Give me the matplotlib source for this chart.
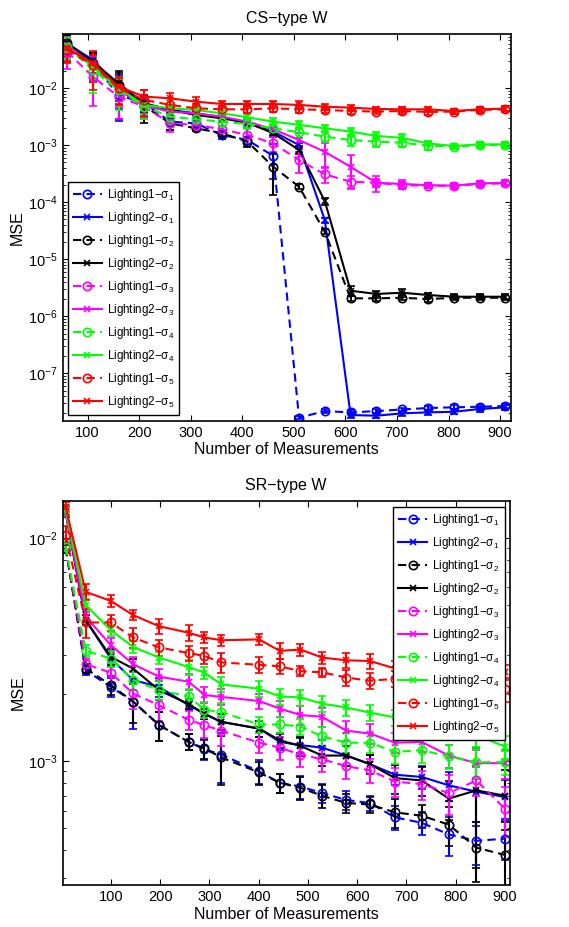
import numpy as np
import matplotlib
matplotlib.use('Agg')
import matplotlib.pyplot as plt
from matplotlib.ticker import LogLocator, NullFormatter, FixedLocator

plt.rcParams['font.family'] = ['Liberation Sans', 'DejaVu Sans']
plt.rcParams['mathtext.fontset'] = 'custom'
plt.rcParams['mathtext.rm'] = 'Liberation Sans'
plt.rcParams['mathtext.it'] = 'Liberation Sans:italic'
plt.rcParams['mathtext.default'] = 'regular'

# ---- CS-type W (top) ----
cs_x = [60, 110, 160, 210, 260, 310, 360, 410, 460, 510, 560, 610, 660, 710, 760, 810, 860, 910]

cs_l1_s1 = [0.0575, 0.0275, 0.00764, 0.00546, 0.0026, 0.00243, 0.00152, 0.00124, 0.00065,
            1.67e-8, 2.18e-8, 2.07e-8, 2.18e-8, 2.33e-8, 2.47e-8, 2.54e-8, 2.6e-8, 2.67e-8]
cs_l2_s1 = [0.0615, 0.0314, 0.0107, 0.00531, 0.00417, 0.00364, 0.0031, 0.00243, 0.00174,
            0.00101, 4.9e-5, 1.86e-8, 1.81e-8, 1.99e-8, 2.07e-8, 2.12e-8, 2.37e-8, 2.54e-8]
cs_l1_s2 = [0.0615, 0.0257, 0.0114, 0.0049, 0.00243, 0.00199, 0.00163, 0.00116, 0.00042,
            0.000188, 3.05e-5, 2.07e-6, 2.07e-6, 2.12e-6, 2.01e-6, 2.12e-6, 2.12e-6, 2.12e-6]
cs_l2_s2 = [0.0615, 0.0294, 0.0122, 0.00546, 0.00417, 0.0034, 0.00298, 0.0025, 0.00163,
            0.00083, 0.000105, 2.82e-6, 2.47e-6, 2.6e-6, 2.37e-6, 2.21e-6, 2.21e-6, 2.21e-6]
cs_l1_s3 = [0.044, 0.016, 0.00714, 0.00476, 0.00243, 0.00228, 0.00191, 0.00152, 0.00108,
            0.00055, 0.00031, 0.00023, 0.00022, 0.0002, 0.000196, 0.000194, 0.00021, 0.000215]
cs_l2_s3 = [0.0575, 0.0257, 0.0093, 0.0049, 0.0039, 0.00364, 0.00318, 0.0026, 0.00191,
            0.00124, 0.00077, 0.00042, 0.00022, 0.00021, 0.0002, 0.000196, 0.000215, 0.00022]
cs_l1_s4 = [0.0538, 0.021, 0.0093, 0.00476, 0.00318, 0.00286, 0.0026, 0.00237, 0.00199,
            0.00169, 0.00142, 0.00124, 0.00116, 0.00111, 0.00099, 0.00095, 0.00101, 0.00101]
cs_l2_s4 = [0.0538, 0.024, 0.01, 0.00511, 0.00446, 0.00417, 0.00364, 0.0031, 0.0026,
            0.00228, 0.00199, 0.00174, 0.00146, 0.00135, 0.00108, 0.00097, 0.00104, 0.00104]
cs_l1_s5 = [0.0471, 0.0257, 0.01, 0.00624, 0.00511, 0.00446, 0.00428, 0.00428, 0.00446,
            0.00428, 0.00417, 0.004, 0.0039, 0.004, 0.00385, 0.0039, 0.00417, 0.00428]
cs_l2_s5 = [0.0503, 0.0275, 0.0107, 0.00714, 0.00668, 0.00583, 0.00531, 0.00531, 0.00531,
            0.00511, 0.00476, 0.00458, 0.00434, 0.00428, 0.00428, 0.004, 0.00428, 0.0044]

# relative error (fraction of value)
cs_l1_s1_err = [0.5, 0.5, 0.65, 0.4, 0.3, 0.2, 0.15, 0.15, 0.6, 0.05, 0.08, 0.08, 0.08, 0.08, 0.08, 0.08, 0.08, 0.08]
cs_l2_s1_err = [0.4, 0.4, 0.6, 0.3, 0.2, 0.15, 0.15, 0.15, 0.15, 0.1, 0.1, 0.1, 0.1, 0.1, 0.1, 0.1, 0.1, 0.1]
cs_l1_s2_err = [0.4, 0.5, 0.75, 0.5, 0.25, 0.1, 0.1, 0.2, 0.68, 0.1, 0.1, 0.1, 0.1, 0.1, 0.1, 0.1, 0.1, 0.1]
cs_l2_s2_err = [0.4, 0.4, 0.5, 0.3, 0.2, 0.15, 0.15, 0.15, 0.15, 0.15, 0.15, 0.2, 0.15, 0.15, 0.1, 0.1, 0.1, 0.1]
cs_l1_s3_err = [0.5, 0.7, 0.6, 0.4, 0.3, 0.2, 0.15, 0.3, 0.3, 0.4, 0.3, 0.25, 0.15, 0.15, 0.1, 0.1, 0.1, 0.1]
cs_l2_s3_err = [0.4, 0.4, 0.5, 0.3, 0.2, 0.15, 0.15, 0.15, 0.15, 0.3, 0.45, 0.58, 0.3, 0.15, 0.1, 0.1, 0.1, 0.1]
cs_l1_s4_err = [0.4, 0.6, 0.55, 0.4, 0.3, 0.2, 0.2, 0.2, 0.2, 0.2, 0.2, 0.2, 0.2, 0.15, 0.15, 0.1, 0.1, 0.1]
cs_l2_s4_err = [0.4, 0.4, 0.5, 0.3, 0.2, 0.15, 0.15, 0.15, 0.15, 0.15, 0.15, 0.15, 0.15, 0.15, 0.1, 0.1, 0.1, 0.1]
cs_l1_s5_err = [0.4, 0.5, 0.5, 0.5, 0.3, 0.2, 0.15, 0.15, 0.15, 0.15, 0.1, 0.1, 0.1, 0.1, 0.1, 0.1, 0.1, 0.1]
cs_l2_s5_err = [0.4, 0.66, 0.5, 0.3, 0.25, 0.2, 0.15, 0.15, 0.15, 0.15, 0.1, 0.1, 0.1, 0.1, 0.1, 0.1, 0.1, 0.1]

# ---- SR-type W (bottom) ----
sr_x = [8, 49, 100, 145, 198, 258, 290, 324, 401, 443, 485, 529, 578, 626, 677, 731, 786, 842, 901]

sr_l1_s1 = [0.00912, 0.00255, 0.00215, 0.00185, 0.00145, 0.00122, 0.00113, 0.00107, 0.0009, 0.0008,
            0.00077, 0.00072, 0.00067, 0.00065, 0.00056, 0.00053, 0.00047, 0.00044, 0.00045]
sr_l2_s1 = [0.0131, 0.00428, 0.00288, 0.00231, 0.00215, 0.00178, 0.00163, 0.0015, 0.0014, 0.00122,
            0.00118, 0.00115, 0.00106, 0.00097, 0.00087, 0.00085, 0.00078, 0.00073, 0.00069]
sr_l1_s2 = [0.009, 0.0026, 0.00219, 0.00185, 0.00145, 0.00122, 0.00114, 0.00104, 0.00089, 0.0008,
            0.00076, 0.0007, 0.00065, 0.00064, 0.00059, 0.00057, 0.00052, 0.00041, 0.00038]
sr_l2_s2 = [0.0131, 0.00428, 0.00293, 0.0026, 0.00208, 0.0018, 0.00163, 0.0015, 0.0014, 0.00124,
            0.00117, 0.00106, 0.00106, 0.00097, 0.00084, 0.00082, 0.00068, 0.00074, 0.0007]
sr_l1_s3 = [0.00912, 0.00272, 0.00249, 0.00201, 0.00178, 0.00153, 0.00145, 0.00137, 0.00121, 0.00115,
            0.00107, 0.00102, 0.00095, 0.00091, 0.00081, 0.00079, 0.00072, 0.00082, 0.00061]
sr_l2_s3 = [0.0131, 0.00443, 0.00331, 0.00272, 0.00239, 0.00227, 0.00198, 0.00194, 0.00186, 0.00172,
            0.00161, 0.00158, 0.00137, 0.00133, 0.00121, 0.00122, 0.00106, 0.00098, 0.00098]
sr_l1_s4 = [0.00912, 0.00312, 0.00288, 0.00231, 0.00208, 0.00195, 0.0017, 0.00166, 0.00146, 0.00146,
            0.00143, 0.00129, 0.00121, 0.00121, 0.0011, 0.00112, 0.00105, 0.00099, 0.00099]
sr_l2_s4 = [0.0133, 0.005, 0.00386, 0.00325, 0.00291, 0.00264, 0.00249, 0.00221, 0.00211, 0.00195,
            0.00193, 0.00181, 0.00174, 0.00165, 0.00157, 0.00148, 0.0014, 0.00131, 0.00116]
sr_l1_s5 = [0.0103, 0.00418, 0.00418, 0.00358, 0.00323, 0.00305, 0.00296, 0.00277, 0.0027, 0.00266,
            0.00253, 0.0025, 0.00237, 0.00229, 0.00234, 0.0023, 0.0022, 0.0022, 0.0021]
sr_l2_s5 = [0.0138, 0.00573, 0.00522, 0.00451, 0.00402, 0.00376, 0.00358, 0.00348, 0.00351, 0.00312,
            0.00316, 0.00291, 0.00283, 0.00281, 0.0026, 0.00255, 0.0025, 0.00245, 0.0025]

sr_l1_s1_err = [0.05, 0.05, 0.1, 0.25, 0.15, 0.08, 0.1, 0.25, 0.12, 0.1, 0.12, 0.1, 0.1, 0.08, 0.12, 0.12, 0.2, 0.22, 0.2]
sr_l2_s1_err = [0.05, 0.05, 0.08, 0.1, 0.1, 0.05, 0.05, 0.08, 0.08, 0.08, 0.08, 0.08, 0.1, 0.1, 0.1, 0.12, 0.15, 0.3, 0.2]
sr_l1_s2_err = [0.05, 0.05, 0.1, 0.2, 0.15, 0.08, 0.1, 0.25, 0.12, 0.1, 0.12, 0.12, 0.1, 0.08, 0.15, 0.12, 0.2, 0.3, 0.4]
sr_l2_s2_err = [0.05, 0.05, 0.08, 0.1, 0.1, 0.05, 0.05, 0.08, 0.08, 0.08, 0.1, 0.1, 0.1, 0.1, 0.15, 0.15, 0.2, 0.55, 0.3]
sr_l1_s3_err = [0.05, 0.05, 0.1, 0.15, 0.15, 0.1, 0.12, 0.15, 0.1, 0.12, 0.12, 0.12, 0.12, 0.12, 0.15, 0.15, 0.2, 0.15, 0.25]
sr_l2_s3_err = [0.05, 0.05, 0.08, 0.08, 0.08, 0.08, 0.08, 0.08, 0.08, 0.08, 0.1, 0.1, 0.1, 0.1, 0.1, 0.1, 0.12, 0.15, 0.15]
sr_l1_s4_err = [0.05, 0.06, 0.08, 0.1, 0.1, 0.08, 0.08, 0.1, 0.08, 0.08, 0.08, 0.1, 0.1, 0.1, 0.12, 0.12, 0.12, 0.15, 0.12]
sr_l2_s4_err = [0.05, 0.06, 0.06, 0.06, 0.06, 0.08, 0.06, 0.08, 0.08, 0.08, 0.08, 0.08, 0.08, 0.08, 0.08, 0.1, 0.1, 0.12, 0.12]
sr_l1_s5_err = [0.1, 0.15, 0.08, 0.1, 0.08, 0.08, 0.08, 0.1, 0.08, 0.08, 0.05, 0.05, 0.08, 0.08, 0.08, 0.08, 0.08, 0.08, 0.12]
sr_l2_s5_err = [0.05, 0.08, 0.06, 0.05, 0.08, 0.08, 0.06, 0.06, 0.06, 0.08, 0.06, 0.06, 0.08, 0.08, 0.08, 0.08, 0.08, 0.08, 0.08]

LABELS = ['Lighting1\u2212\u03c3$_1$', 'Lighting2\u2212\u03c3$_1$',
          'Lighting1\u2212\u03c3$_2$', 'Lighting2\u2212\u03c3$_2$',
          'Lighting1\u2212\u03c3$_3$', 'Lighting2\u2212\u03c3$_3$',
          'Lighting1\u2212\u03c3$_4$', 'Lighting2\u2212\u03c3$_4$',
          'Lighting1\u2212\u03c3$_5$', 'Lighting2\u2212\u03c3$_5$']
COLORS = ['#0000ff', '#000000', '#ff00ff', '#00ff00', '#ff0000']
XTICKS = [100, 200, 300, 400, 500, 600, 700, 800, 900]

cs_series = [(cs_l1_s1, cs_l1_s1_err), (cs_l2_s1, cs_l2_s1_err), (cs_l1_s2, cs_l1_s2_err),
             (cs_l2_s2, cs_l2_s2_err), (cs_l1_s3, cs_l1_s3_err), (cs_l2_s3, cs_l2_s3_err),
             (cs_l1_s4, cs_l1_s4_err), (cs_l2_s4, cs_l2_s4_err), (cs_l1_s5, cs_l1_s5_err),
             (cs_l2_s5, cs_l2_s5_err)]
sr_series = [(sr_l1_s1, sr_l1_s1_err), (sr_l2_s1, sr_l2_s1_err), (sr_l1_s2, sr_l1_s2_err),
             (sr_l2_s2, sr_l2_s2_err), (sr_l1_s3, sr_l1_s3_err), (sr_l2_s3, sr_l2_s3_err),
             (sr_l1_s4, sr_l1_s4_err), (sr_l2_s4, sr_l2_s4_err), (sr_l1_s5, sr_l1_s5_err),
             (sr_l2_s5, sr_l2_s5_err)]


def draw(ax, x, series):
    handles = []
    for k, (y, e) in enumerate(series):
        y = np.array(y)
        first = (k % 2 == 0)
        c = ax.errorbar(x, y, yerr=y * np.array(e), color=COLORS[k // 2],
                        ls=(0, (4, 2.5)) if first else '-',
                        marker='o' if first else 'x', mfc='none',
                        ms=6 if first else 4, mew=1.2, lw=1.5,
                        elinewidth=1.5, capsize=3, capthick=1.5)
        handles.append(c[0])
    ax.set_yscale('log')
    ax.xaxis.set_major_locator(FixedLocator(XTICKS))
    ax.yaxis.set_major_locator(LogLocator(base=10, numticks=100))
    ax.yaxis.set_minor_locator(LogLocator(base=10, subs=np.arange(2, 10), numticks=100))
    ax.yaxis.set_minor_formatter(NullFormatter())
    ax.tick_params(which='both', direction='in', top=True, right=True, labelsize=10.5)
    ax.tick_params(which='major', length=4)
    ax.tick_params(which='minor', length=2)
    ax.set_xlabel('Number of Measurements', fontsize=11.5, labelpad=2)
    ax.set_ylabel('MSE', fontsize=11.5, labelpad=2)
    for s in ax.spines.values():
        s.set_linewidth(1.2)
    return handles


fig = plt.figure(figsize=(5.69, 9.27), dpi=100)

ax1 = fig.add_axes([0.110, 0.546, 0.788, 0.417])
h1 = draw(ax1, cs_x, cs_series)
ax1.set_xlim(51.5, 921)
ax1.set_ylim(1.47e-8, 0.0885)
ax1.set_title('CS\u2212type W', fontsize=11.5, pad=8)
ax1.legend(h1, LABELS, loc='lower left', bbox_to_anchor=(0.011, 0.015), borderaxespad=0,
           fontsize=8.4, labelspacing=0.6, handlelength=2.5, handletextpad=0.4,
           borderpad=0.45, fancybox=False, framealpha=1, edgecolor='black')

ax2 = fig.add_axes([0.110, 0.0453, 0.786, 0.414])
h2 = draw(ax2, sr_x, sr_series)
ax2.set_xlim(2, 910)
ax2.set_ylim(2.79e-4, 0.01459)
ax2.set_title('SR\u2212type W', fontsize=11.5, pad=8)
ax2.legend(h2, LABELS, loc='upper right', bbox_to_anchor=(0.989, 0.985), borderaxespad=0,
           fontsize=8.4, labelspacing=0.6, handlelength=2.5, handletextpad=0.4,
           borderpad=0.45, fancybox=False, framealpha=1, edgecolor='black')

fig.savefig('out.png', dpi=100)
